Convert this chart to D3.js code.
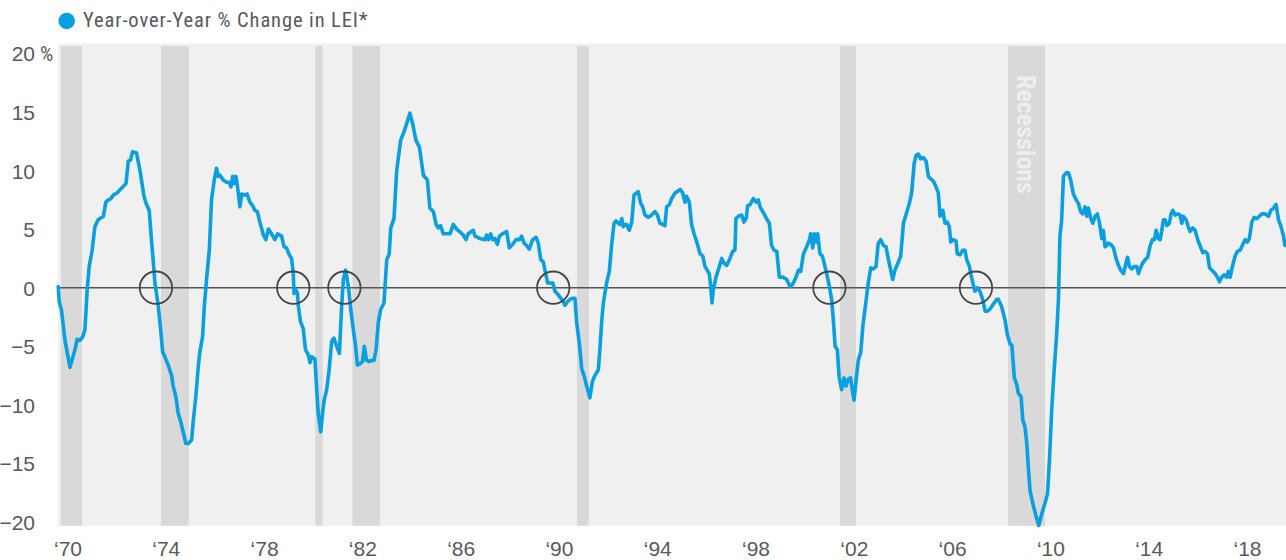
<!DOCTYPE html>
<html><head><meta charset="utf-8">
<script src="https://cdn.jsdelivr.net/npm/d3@7"></script>
<style>
html,body{margin:0;padding:0;background:#fff;}
svg{display:block;font-family:"Liberation Sans Narrow","Roboto Condensed","DejaVu Sans Condensed","Liberation Sans",sans-serif;}
</style></head><body>
<svg id="chart" width="1286" height="560"></svg>
<script>
// ---------- data (decimal year, YoY % change in LEI) ----------
const lei1970s = [[1969.81,0.1],[1969.85,-1.2],[1969.94,-1.9],[1970.08,-4.5],[1970.28,-6.8],[1970.48,-5.3],[1970.57,-4.4],[1970.68,-4.5],[1970.79,-4.2],[1970.88,-3.6],[1970.97,-0.2],[1971.05,1.8],[1971.17,3.2],[1971.28,5.2],[1971.41,5.8],[1971.62,6.1],[1971.72,7.3],[1971.82,7.5],[1971.92,7.6],[1972.02,7.9],[1972.18,8.1],[1972.35,8.5],[1972.53,8.9],[1972.62,10.8],[1972.71,10.9],[1972.79,11.6],[1972.95,11.5],[1973.09,10.0],[1973.25,7.8],[1973.35,7.1],[1973.46,6.6],[1973.55,4.1],[1973.65,1.5],[1973.69,0.4],[1973.82,-1.5],[1973.92,-3.6],[1974.0,-5.5],[1974.09,-5.9],[1974.22,-6.6],[1974.36,-7.5],[1974.42,-8.4],[1974.53,-9.3],[1974.62,-10.7],[1974.72,-11.4],[1974.83,-12.4],[1974.93,-13.3],[1975.03,-13.3],[1975.16,-13.0],[1975.23,-11.3],[1975.33,-9.3],[1975.43,-6.7],[1975.49,-5.5],[1975.6,-4.2],[1975.67,-1.6],[1975.76,0.7],[1975.87,3.2],[1975.96,7.5],[1976.07,9.2],[1976.16,10.2],[1976.23,9.5],[1976.3,9.6],[1976.43,9.2],[1976.56,9.0],[1976.67,9.0],[1976.74,8.6],[1976.81,9.5],[1976.87,8.9],[1976.94,9.5],[1977.01,8.5],[1977.1,6.9],[1977.17,8.0],[1977.3,7.9],[1977.39,8.0],[1977.5,7.3],[1977.61,7.0],[1977.7,6.6],[1977.8,6.5],[1977.9,5.6],[1978.04,4.5],[1978.14,4.1],[1978.24,5.0],[1978.37,4.6],[1978.5,4.1],[1978.61,4.6],[1978.77,4.4],[1978.87,3.5],[1978.97,3.4],[1979.08,2.8],[1979.17,2.5],[1979.24,1.2],[1979.27,-0.5],[1979.35,-0.2],[1979.41,-0.5],[1979.44,-1.5],[1979.53,-2.9],[1979.64,-3.5],[1979.73,-5.3],[1979.84,-5.7],[1979.91,-6.4],[1979.98,-5.9]];
const lei1980s = [[1980.11,-6.1],[1980.18,-8.7],[1980.24,-10.7],[1980.34,-12.3],[1980.42,-10.6],[1980.48,-9.6],[1980.58,-8.7],[1980.68,-7.0],[1980.78,-4.6],[1980.87,-4.3],[1980.98,-5.0],[1981.09,-5.6],[1981.18,-1.6],[1981.25,0.7],[1981.34,1.5],[1981.45,0.1],[1981.55,-1.9],[1981.65,-3.6],[1981.74,-5.0],[1981.81,-6.6],[1981.91,-6.5],[1982.02,-6.3],[1982.09,-5.0],[1982.18,-6.2],[1982.29,-6.3],[1982.38,-6.2],[1982.48,-6.2],[1982.56,-5.3],[1982.65,-3.0],[1982.74,-1.9],[1982.88,-1.3],[1982.92,0.1],[1982.99,2.4],[1983.09,2.9],[1983.15,5.1],[1983.28,5.9],[1983.39,10.0],[1983.55,12.6],[1983.68,13.3],[1983.79,14.0],[1983.92,14.9],[1984.03,14.0],[1984.16,12.6],[1984.3,12.0],[1984.46,9.6],[1984.62,9.2],[1984.72,6.8],[1984.86,6.5],[1984.97,5.4],[1985.06,5.1],[1985.15,5.3],[1985.26,4.6],[1985.37,4.6],[1985.53,4.6],[1985.66,5.4],[1985.79,5.0],[1985.96,4.7],[1986.06,4.5],[1986.17,4.1],[1986.26,4.6],[1986.46,4.9],[1986.53,4.4],[1986.73,4.2],[1986.93,4.1],[1987.0,4.5],[1987.07,4.1],[1987.16,4.6],[1987.24,4.1],[1987.33,4.2],[1987.43,3.7],[1987.51,4.4],[1987.64,4.6],[1987.8,4.8],[1987.91,3.4],[1988.04,3.7],[1988.18,4.1],[1988.31,4.1],[1988.4,4.4],[1988.5,3.8],[1988.6,3.6],[1988.71,3.3],[1988.84,4.1],[1988.98,4.3],[1989.07,3.8],[1989.17,2.4],[1989.27,2.2],[1989.35,1.4],[1989.45,0.4],[1989.54,0.4],[1989.65,0.4],[1989.74,-0.3],[1989.83,-0.5],[1989.94,-0.8]];
const lei1990s = [[1990.05,-1.1],[1990.14,-1.5],[1990.24,-1.2],[1990.34,-1.0],[1990.45,-0.9],[1990.54,-0.9],[1990.61,-3.0],[1990.72,-4.8],[1990.81,-6.9],[1990.92,-7.6],[1991.01,-8.4],[1991.08,-8.9],[1991.14,-9.4],[1991.24,-8.0],[1991.34,-7.5],[1991.48,-7.0],[1991.55,-5.0],[1991.61,-3.0],[1991.68,-1.3],[1991.81,0.4],[1991.92,1.4],[1992.01,3.6],[1992.11,5.5],[1992.19,5.7],[1992.28,5.5],[1992.35,5.4],[1992.42,5.9],[1992.48,5.2],[1992.55,5.4],[1992.62,5.4],[1992.72,4.9],[1992.82,5.6],[1992.91,7.9],[1993.02,8.1],[1993.08,8.2],[1993.18,7.2],[1993.26,6.9],[1993.35,6.2],[1993.49,6.0],[1993.62,6.2],[1993.75,6.5],[1993.85,6.2],[1993.95,5.5],[1994.06,5.4],[1994.15,5.3],[1994.22,6.9],[1994.33,7.1],[1994.42,7.6],[1994.56,8.1],[1994.65,8.2],[1994.76,8.4],[1994.86,8.1],[1994.96,7.3],[1995.02,7.8],[1995.13,7.3],[1995.22,5.4],[1995.32,4.6],[1995.43,3.9],[1995.56,2.9],[1995.67,2.7],[1995.76,1.8],[1995.85,1.5],[1995.93,1.2],[1995.99,0.1],[1996.04,-1.3],[1996.09,-0.2],[1996.2,0.9],[1996.29,1.5],[1996.43,2.5],[1996.52,2.1],[1996.63,1.9],[1996.76,2.5],[1996.87,3.1],[1996.96,3.2],[1997.0,5.9],[1997.1,6.1],[1997.23,6.2],[1997.32,5.6],[1997.41,5.9],[1997.47,7.0],[1997.57,7.1],[1997.7,7.6],[1997.81,7.3],[1997.9,7.5],[1997.97,6.9],[1998.1,6.4],[1998.23,5.9],[1998.34,5.5],[1998.43,3.6],[1998.53,3.2],[1998.64,3.1],[1998.74,0.9],[1998.88,0.9],[1999.04,0.7],[1999.17,0.1],[1999.28,0.3],[1999.41,0.9],[1999.51,1.5],[1999.6,1.4],[1999.71,2.9],[1999.84,3.5],[1999.95,4.1]];
const lei2000s = [[2000.0,4.6],[2000.08,3.4],[2000.15,4.6],[2000.21,3.9],[2000.28,4.6],[2000.37,2.9],[2000.47,2.7],[2000.54,2.1],[2000.64,1.2],[2000.75,0.1],[2000.84,-1.0],[2000.91,-2.8],[2000.98,-5.0],[2001.07,-5.3],[2001.14,-7.6],[2001.24,-8.7],[2001.34,-7.7],[2001.42,-8.4],[2001.51,-7.8],[2001.6,-7.7],[2001.69,-9.0],[2001.74,-9.6],[2001.82,-7.9],[2001.91,-6.2],[2002.01,-5.5],[2002.09,-3.3],[2002.18,-1.8],[2002.31,0.4],[2002.41,1.7],[2002.51,1.6],[2002.62,1.8],[2002.71,3.8],[2002.81,4.1],[2002.92,3.6],[2003.02,3.5],[2003.12,2.4],[2003.21,1.5],[2003.29,0.7],[2003.38,1.5],[2003.52,2.2],[2003.61,2.7],[2003.72,5.5],[2003.82,6.2],[2003.96,7.2],[2004.05,8.1],[2004.15,10.6],[2004.23,11.3],[2004.32,11.4],[2004.41,11.0],[2004.52,11.1],[2004.63,10.8],[2004.72,9.5],[2004.81,9.3],[2004.92,9.1],[2005.03,8.6],[2005.12,8.1],[2005.19,6.1],[2005.3,6.6],[2005.39,5.5],[2005.48,5.6],[2005.56,5.2],[2005.62,3.9],[2005.72,4.1],[2005.83,4.0],[2005.88,2.9],[2005.99,2.8],[2006.1,3.2],[2006.19,3.2],[2006.26,2.4],[2006.37,1.8],[2006.42,1.2],[2006.53,0.2],[2006.59,-0.3],[2006.69,0.0],[2006.79,-0.3],[2006.9,-1.0],[2007.0,-2.0],[2007.09,-2.0],[2007.2,-1.8],[2007.33,-1.4],[2007.46,-1.0],[2007.53,-1.0],[2007.66,-1.6],[2007.8,-2.8],[2007.89,-4.0],[2008.0,-4.8],[2008.07,-4.9],[2008.13,-6.5],[2008.17,-7.7],[2008.27,-8.3],[2008.33,-9.0],[2008.44,-9.3],[2008.51,-11.3],[2008.6,-11.9],[2008.67,-13.3],[2008.73,-15.3],[2008.8,-17.3],[2008.91,-18.4],[2009.04,-19.5],[2009.15,-20.3],[2009.27,-19.3],[2009.4,-18.4],[2009.5,-17.6],[2009.58,-14.7],[2009.67,-10.4],[2009.76,-7.3],[2009.87,-3.9],[2009.94,-1.0]];
const lei2010s = [[2010.0,4.4],[2010.07,5.8],[2010.14,9.5],[2010.25,9.8],[2010.34,9.8],[2010.43,9.2],[2010.54,8.0],[2010.65,7.5],[2010.74,7.2],[2010.83,6.5],[2010.91,6.3],[2011.01,6.9],[2011.08,6.1],[2011.14,6.8],[2011.24,5.9],[2011.32,5.5],[2011.41,6.1],[2011.5,6.3],[2011.58,5.6],[2011.68,4.2],[2011.74,4.9],[2011.81,3.5],[2011.88,3.6],[2011.94,3.8],[2012.04,3.7],[2012.15,3.4],[2012.25,2.5],[2012.35,1.9],[2012.44,1.5],[2012.55,1.2],[2012.65,2.1],[2012.71,2.6],[2012.79,1.8],[2012.88,1.6],[2012.97,1.8],[2013.08,1.8],[2013.15,1.2],[2013.21,1.6],[2013.32,2.1],[2013.42,2.4],[2013.52,2.6],[2013.62,3.6],[2013.71,4.1],[2013.79,4.1],[2013.86,4.9],[2013.95,4.2],[2014.02,4.1],[2014.08,4.8],[2014.15,5.8],[2014.22,5.8],[2014.29,5.3],[2014.39,5.5],[2014.46,6.3],[2014.53,6.6],[2014.62,6.2],[2014.73,6.3],[2014.82,6.2],[2014.89,5.5],[2014.95,6.1],[2015.06,5.8],[2015.15,5.2],[2015.22,4.8],[2015.33,5.1],[2015.42,4.9],[2015.49,4.4],[2015.56,3.9],[2015.62,3.6],[2015.73,3.0],[2015.82,3.1],[2015.92,2.9],[2016.0,1.7],[2016.09,1.5],[2016.23,1.2],[2016.32,0.9],[2016.4,0.5],[2016.49,0.9],[2016.59,1.1],[2016.69,0.9],[2016.76,1.4],[2016.83,0.9],[2016.93,1.9],[2017.03,2.7],[2017.12,3.1],[2017.23,3.2],[2017.34,3.7],[2017.43,4.1],[2017.52,3.9],[2017.6,4.2],[2017.7,5.6],[2017.79,6.0],[2017.9,5.9],[2018.0,6.1],[2018.1,6.3],[2018.23,6.3],[2018.37,6.1],[2018.46,6.6],[2018.57,6.8],[2018.67,7.1],[2018.77,5.8],[2018.86,5.3],[2018.97,4.4],[2019.03,3.6]];

// recession bands (decimal years)
const recessionStart = [1969.92, 1973.93, 1980.12, 1981.61, 1990.62, 2001.18, 2007.92];
const recessionEnd   = [1970.76, 1975.05, 1980.42, 1982.72, 1991.10, 2001.82, 2009.40];
// zero-crossings highlighted with circles
const crossings = [1973.73, 1979.24, 1981.29, 1989.67, 2000.75, 2006.63];

const xTickLabels = ["\u201870","\u201874","\u201878","\u201882","\u201886","\u201890","\u201894","\u201898","\u201802","\u201806","\u201810","\u201814","\u201818"];
const yTicks = [20, 15, 10, 5, 0, -5, -10, -15, -20];
const seriesName = "Year-over-Year % Change in LEI*";
const bandLabel = "Recessions";

// ---------- drawing ----------
const BLUE = "#0a9fe0", TEXT = "#58595b";
const svg = d3.select("#chart");
const plotLeft = 58, plotRight = 1286, plotTop = 43.5, plotBottom = 525.7, bandTop = 46;

const x = d3.scaleLinear().domain([1969.8, 2019.07]).range([plotLeft, plotRight]);
const y = d3.scaleLinear().domain([-20, 20]).range([522, 53.4]);
const xLab = d3.scalePoint().domain(xTickLabels).range([67.5, 1247]);

const data = [].concat(lei1970s, lei1980s, lei1990s, lei2000s, lei2010s);

svg.append("rect").attr("x", plotLeft).attr("y", plotTop)
  .attr("width", plotRight - plotLeft).attr("height", plotBottom - plotTop).attr("fill", "#f0f0f0");

const bands = recessionStart.map((s, i) => ({s, e: recessionEnd[i]}));
svg.append("g").selectAll("rect").data(bands).join("rect")
  .attr("x", d => x(d.s)).attr("width", d => x(d.e) - x(d.s))
  .attr("y", bandTop).attr("height", plotBottom - bandTop).attr("fill", "#d9d9d9");

// Recessions label on last band
const lastBand = bands[bands.length - 1];
svg.append("text")
  .attr("transform", `translate(${(x(lastBand.s) + x(lastBand.e)) / 2},75) rotate(90)`)
  .attr("dy", "0.36em")
  .attr("font-size", 26).attr("font-weight", "bold").attr("fill", "#eeeeee")
  .text(bandLabel);

// zero line
svg.append("line").attr("x1", plotLeft).attr("x2", plotRight)
  .attr("y1", y(0)).attr("y2", y(0)).attr("stroke", "#555").attr("stroke-width", 1.6);

// series line
const line = d3.line().x(d => x(d[0])).y(d => y(d[1])).curve(d3.curveLinear);
svg.append("path").datum(data).attr("d", line)
  .attr("fill", "none").attr("stroke", BLUE).attr("stroke-width", 3.6)
  .attr("stroke-linejoin", "round").attr("stroke-linecap", "round");

// circles
svg.append("g").selectAll("circle").data(crossings).join("circle")
  .attr("cx", d => x(d)).attr("cy", y(0)).attr("r", 16.2)
  .attr("fill", "none").attr("stroke", "#454545").attr("stroke-width", 1.8);

// y axis
const yAxis = svg.append("g").attr("transform", "translate(35,0)")
  .call(d3.axisLeft(y).tickValues(yTicks).tickSize(0).tickPadding(0).tickFormat(d3.format("d")));
yAxis.select(".domain").remove();
yAxis.selectAll("text").attr("x", 0).attr("dy", "0.36em")
  .attr("font-size", 21).attr("fill", TEXT).attr("font-family", null);
svg.append("text").attr("x", 40).attr("y", y(20)).attr("dy", "0.36em")
  .attr("font-size", 21).attr("fill", TEXT).text("%");

// x axis
const xAxis = svg.append("g").attr("transform", "translate(0,555.5)")
  .call(d3.axisBottom(xLab).tickSize(0).tickPadding(0));
xAxis.select(".domain").remove();
xAxis.selectAll("text").attr("y", 0).attr("dy", 0)
  .attr("font-size", 21).attr("fill", TEXT).attr("font-family", null);

// legend
svg.append("circle").attr("cx", 66.7).attr("cy", 21).attr("r", 8.3).attr("fill", BLUE);
svg.append("text").attr("x", 83).attr("y", 27.3).attr("font-size", 20.5)
  .attr("letter-spacing", 0.9).attr("fill", TEXT).text(seriesName);
</script>
</body></html>
